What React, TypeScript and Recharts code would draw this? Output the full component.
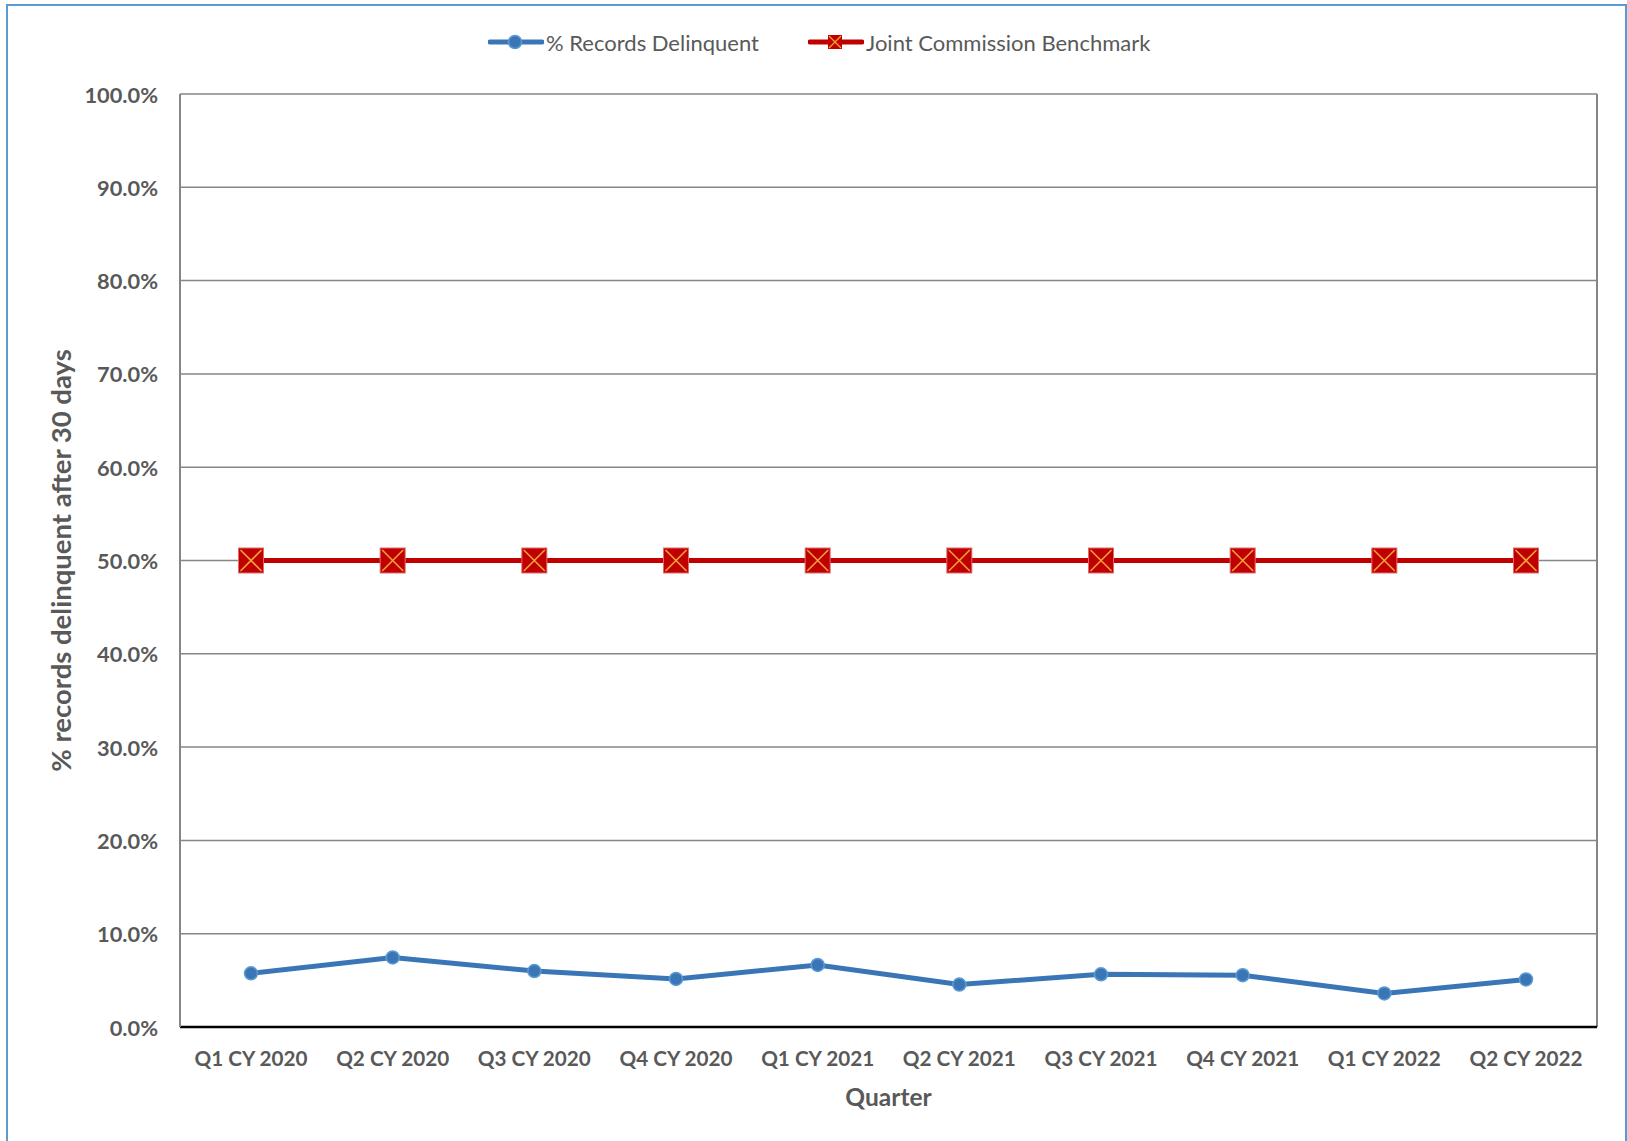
import React from 'react';
import { LineChart, Line, XAxis, YAxis, CartesianGrid, Legend } from 'recharts';

const quarters = ['Q1 CY 2020', 'Q2 CY 2020', 'Q3 CY 2020', 'Q4 CY 2020', 'Q1 CY 2021', 'Q2 CY 2021', 'Q3 CY 2021', 'Q4 CY 2021', 'Q1 CY 2022', 'Q2 CY 2022'];
const delinquent = [5.76, 7.45, 6.0, 5.15, 6.65, 4.55, 5.65, 5.55, 3.6, 5.1];
const benchmark = [50, 50, 50, 50, 50, 50, 50, 50, 50, 50];
const yTicks = [0, 10, 20, 30, 40, 50, 60, 70, 80, 90, 100];

const data = quarters.map((q, i) => ({ quarter: q, delinquent: delinquent[i], benchmark: benchmark[i] }));

const FONT = 'Lato, "Open Sans", sans-serif';
const GRAY_TEXT = '#595959';
const BLUE = '#3A76B5';
const RED = '#C00000';

const SquareX = (props: any) => {
  const { cx, cy } = props;
  if (cx == null || cy == null) return null;
  const s = 12.5;
  return (
    <g>
      <rect x={cx - s} y={cy - s} width={2 * s} height={2 * s} fill={RED} stroke="#E26B6B" strokeWidth={1} />
      <line x1={cx - s + 2} y1={cy - s + 2} x2={cx + s - 2} y2={cy + s - 2} stroke="#F4A23A" strokeWidth={1.6} />
      <line x1={cx + s - 2} y1={cy - s + 2} x2={cx - s + 2} y2={cy + s - 2} stroke="#F4A23A" strokeWidth={1.6} />
    </g>
  );
};

const BlueDot = (props: any) => {
  const { cx, cy } = props;
  if (cx == null || cy == null) return null;
  return <circle cx={cx} cy={cy} r={6.5} fill={BLUE} stroke="#5B9BD5" strokeWidth={1.5} />;
};

const XTick = (props: any) => {
  const { x, y, payload } = props;
  return (
    <text x={x} y={y + 31} textAnchor="middle" dominantBaseline="central" fill={GRAY_TEXT} fontFamily={FONT} fontWeight="bold" fontSize={20.7}>
      {payload.value}
    </text>
  );
};

const YTick = (props: any) => {
  const { x, y, payload } = props;
  return (
    <text x={x - 22} y={y} textAnchor="end" dominantBaseline="central" fill={GRAY_TEXT} fontFamily={FONT} fontWeight="bold" fontSize={21.8}>
      {Number(payload.value).toFixed(1) + '%'}
    </text>
  );
};

const LegendContent = () => (
  <div style={{ position: 'relative', width: 1627, height: 34, fontFamily: FONT, fontSize: 22, color: GRAY_TEXT }}>
    <div style={{ position: 'absolute', left: 488, top: 0, display: 'flex', alignItems: 'center', height: 34 }}>
      <svg width={56} height={20}>
        <line x1={2} y1={10} x2={54} y2={10} stroke={BLUE} strokeWidth={5} strokeLinecap="round" />
        <circle cx={27} cy={10} r={6.5} fill={BLUE} stroke="#5B9BD5" strokeWidth={1.5} />
      </svg>
      <span style={{ marginLeft: 2 }}>% Records Delinquent</span>
    </div>
    <div style={{ position: 'absolute', left: 808, top: 0, display: 'flex', alignItems: 'center', height: 34 }}>
      <svg width={56} height={24}>
        <line x1={2} y1={12} x2={54} y2={12} stroke={RED} strokeWidth={5} strokeLinecap="round" />
        <rect x={20} y={5} width={14} height={14} fill={RED} />
        <line x1={21} y1={6} x2={33} y2={18} stroke="#F4A23A" strokeWidth={1.3} />
        <line x1={33} y1={6} x2={21} y2={18} stroke="#F4A23A" strokeWidth={1.3} />
      </svg>
      <span style={{ marginLeft: 2 }}>Joint Commission Benchmark</span>
    </div>
  </div>
);

export default function App() {
  return (
    <div style={{ position: 'absolute', left: 0, top: 0, width: 1627, height: 1141, overflow: 'hidden', background: '#fff' }}>
      <div style={{ position: 'absolute', left: 6, top: 4, width: 1621, height: 1200, border: '2px solid #5B9BD5', boxSizing: 'border-box' }} />
      <div style={{ position: 'absolute', left: 0, top: 0 }}>
        <LineChart width={1627} height={1141} data={data} margin={{ top: 94, right: 30, left: 0, bottom: 0 }}>
          <CartesianGrid vertical={false} stroke="#868686" strokeWidth={1.5} />
          <CartesianGrid
            horizontal={false}
            stroke="#868686"
            strokeWidth={2}
            verticalCoordinatesGenerator={({ offset }: any) => [offset.left + offset.width]}
          />
          <XAxis
            dataKey="quarter"
            height={114}
            tickLine={false}
            tickSize={0}
            tickMargin={0}
            padding={{ left: 71, right: 71 }}
            axisLine={{ stroke: '#000', strokeWidth: 2.5 }}
            tick={<XTick />}
            interval={0}
            label={(p: any) => {
              const vb = p.viewBox || {};
              return (
                <text x={vb.x + vb.width / 2} y={vb.y + 69} textAnchor="middle" dominantBaseline="central" fill={GRAY_TEXT} fontFamily={FONT} fontWeight="bold" fontSize={24.5}>
                  Quarter
                </text>
              );
            }}
          />
          <YAxis
            width={180}
            domain={[0, 100]}
            ticks={yTicks}
            tickLine={false}
            tickSize={0}
            tickMargin={0}
            axisLine={{ stroke: '#868686', strokeWidth: 2 }}
            tick={<YTick />}
            label={(p: any) => {
              const vb = p.viewBox || {};
              const cy = vb.y + vb.height / 2;
              return (
                <text x={60} y={cy} transform={`rotate(-90, 60, ${cy})`} textAnchor="middle" dominantBaseline="central" fill={GRAY_TEXT} fontFamily={FONT} fontWeight="bold" fontSize={27.5}>
                  % records delinquent after 30 days
                </text>
              );
            }}
          />
          <Legend layout="vertical" align="center" verticalAlign="middle" wrapperStyle={{ top: 25, left: 0, width: 1627 }} content={<LegendContent />} />
          <Line type="linear" dataKey="benchmark" name="Joint Commission Benchmark" stroke={RED} strokeWidth={5} dot={<SquareX />} activeDot={false} isAnimationActive={false} />
          <Line type="linear" dataKey="delinquent" name="% Records Delinquent" stroke={BLUE} strokeWidth={5} dot={<BlueDot />} activeDot={false} isAnimationActive={false} />
        </LineChart>
      </div>
    </div>
  );
}
